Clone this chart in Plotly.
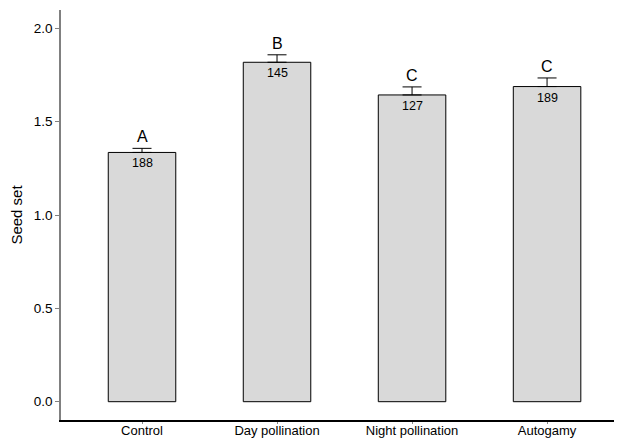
import plotly.graph_objects as go

categories = ["Control", "Day pollination", "Night pollination", "Autogamy"]
seed_set = [1.335, 1.818, 1.643, 1.688]
se = [0.022, 0.04, 0.043, 0.046]
letters = ["A", "B", "C", "C"]
n_labels = ["188", "145", "127", "189"]
y_ticks = [0.0, 0.5, 1.0, 1.5, 2.0]

FONT = "Arial, Liberation Sans, sans-serif"

fig = go.Figure()
fig.add_trace(go.Bar(
    x=list(range(len(categories))), y=seed_set, width=0.5,
    marker=dict(color="#d9d9d9", line=dict(color="black", width=1)),
    error_y=dict(type="data", array=se, arrayminus=[0]*len(se), symmetric=False,
                 color="black", thickness=1, width=9.5),
    hoverinfo="skip",
))

for i, (v, e, L, n) in enumerate(zip(seed_set, se, letters, n_labels)):
    fig.add_annotation(x=i, y=v + e, text=L, showarrow=False, xref="x", yref="y",
                       yanchor="bottom", yshift=1, font=dict(size=16, color="black", family=FONT))
    fig.add_annotation(x=i, y=v, text=n, showarrow=False, xref="x", yref="y",
                       yanchor="top", yshift=-2, font=dict(size=12.5, color="black", family=FONT))

# page body has an 8px default margin: compensate so the plot lands where the reference has it
fig.update_layout(
    width=614, height=432,
    margin=dict(l=53, r=0, t=2, b=20, autoexpand=False),
    plot_bgcolor="white", paper_bgcolor="white",
    showlegend=False,
    font=dict(family=FONT, color="black", size=12),
    xaxis=dict(
        range=[-0.6, 3.555], tickmode="array", tickvals=list(range(len(categories))),
        ticktext=categories, showgrid=False, zeroline=False,
        showline=True, linecolor="black", linewidth=1.5,
        ticks="outside", ticklen=2, tickcolor="#888888",
        tickfont=dict(size=13, color="black"), ticklabelstandoff=-4,
    ),
    yaxis=dict(
        range=[-0.098, 2.098], tickmode="array", tickvals=y_ticks,
        ticktext=[f"{t:.1f}" for t in y_ticks], showgrid=False, zeroline=False,
        showline=True, linecolor="#808080", linewidth=1.5,
        ticks="outside", ticklen=4, tickcolor="#808080",
        tickfont=dict(size=13.5, color="black"),
        title=dict(text="Seed set", font=dict(size=15, color="black"), standoff=12),
    ),
)

fig.write_html("out.html")
